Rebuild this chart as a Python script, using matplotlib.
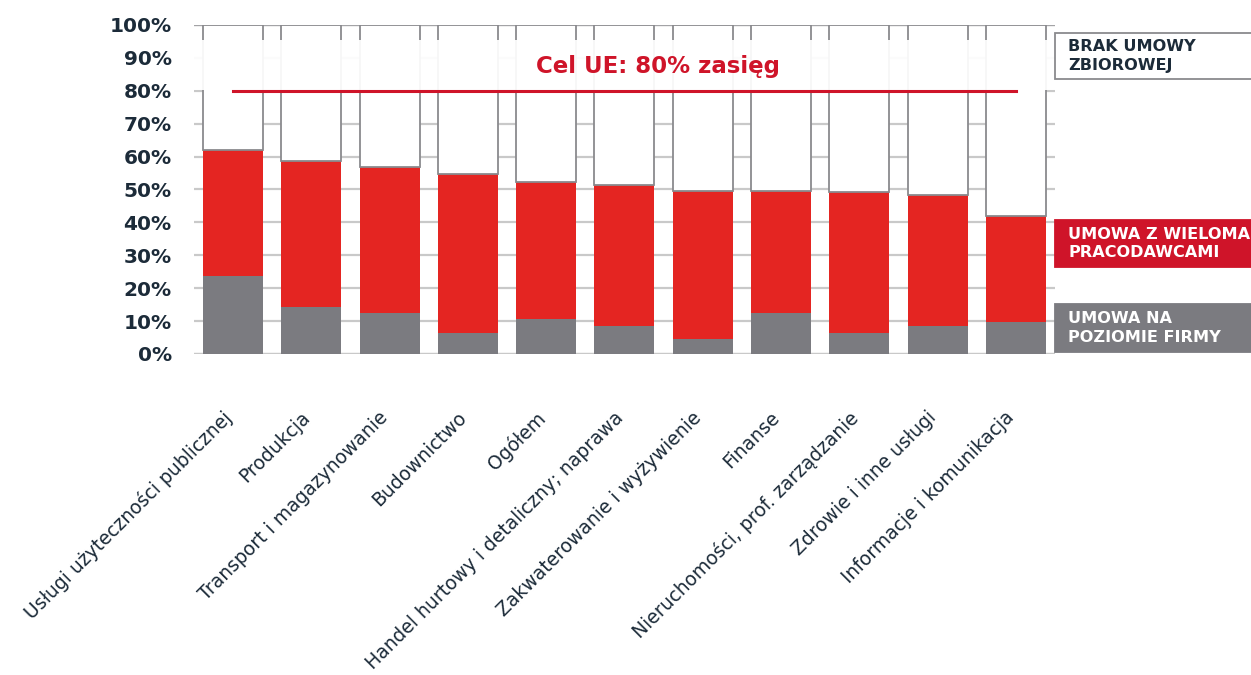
import matplotlib.pyplot as plt
from matplotlib.patches import Rectangle
import numpy as np

# sectors, left to right
categories = ['Usługi użyteczności publicznej', 'Produkcja', 'Transport i magazynowanie',
              'Budownictwo', 'Ogółem', 'Handel hurtowy i detaliczny; naprawa',
              'Zakwaterowanie i wyżywienie', 'Finanse', 'Nieruchomości, prof. zarządzanie',
              'Zdrowie i inne usługi', 'Informacje i komunikacja']

# shares in %
firm_level = [23.7, 14.3, 12.5, 6.4, 10.6, 8.5, 4.6, 12.4, 6.4, 8.5, 9.7]
multi_employer = [38.3, 44.4, 44.3, 48.3, 41.6, 42.9, 44.9, 37.1, 42.8, 39.8, 32.3]
target = 80

navy = '#1c2b39'
red = '#e42522'
red_dark = '#cf1429'
gray = '#7b7b80'

plt.rcParams['font.family'] = ['DejaVu Sans']

fig = plt.figure(figsize=(12.51, 6.75), dpi=100)
ax = fig.add_axes([0.155, 0.4756, 0.6883, 0.4874])

x = np.arange(len(categories))
firm = np.array(firm_level)
multi = np.array(multi_employer)
none = 100 - firm - multi
w = 0.766

ax.bar(x, firm, w, color=gray, zorder=2)
ax.bar(x, multi, w, bottom=firm, color=red, zorder=2)
ax.bar(x, none, w, bottom=firm + multi, color='white', edgecolor='#8a8a8e', linewidth=1.3, zorder=2)

# soft white band behind the target label
ax.axhspan(80.3, 95.5, color='white', alpha=0.93, zorder=3, lw=0)
ax.plot([x[0], x[-1]], [target, target], color=red_dark, lw=2.2, zorder=4)
ax.text(5.43, 87.3, 'Cel UE: 80% zasięg', color=red_dark, fontsize=16.5, fontweight='bold',
        ha='center', va='center', zorder=5)

ax.set_xlim(-0.5, 10.5)
ax.set_ylim(0, 100)
ax.set_yticks(range(0, 101, 10))
ax.set_yticklabels([f'{v}%' for v in range(0, 101, 10)], fontsize=14.5, fontweight='bold', color=navy)
ax.tick_params(axis='y', length=0, pad=16)
ax.yaxis.grid(True, color='#c9c9c9', lw=1.6, zorder=0)
ax.axhline(100, color='#a3a3a6', lw=1.6, zorder=1)
ax.axhline(0, color='#c9c9c9', lw=1.6, zorder=1)
ax.set_axisbelow(True)
for s in ax.spines.values():
    s.set_visible(False)
ax.set_xticks([])

# rotated sector labels ending under each bar
for i, name in enumerate(categories):
    ax.annotate(name, xy=(x[i], 0), xytext=(-11, -54), textcoords='offset pixels',
                rotation=45, rotation_mode='anchor', ha='right', va='top',
                fontsize=13.5, color=navy, annotation_clip=False)

# legend boxes on the right
W, H = 1251, 675
def legend_box(y_top, y_bot, face, edge, text, tcolor):
    fig.patches.append(Rectangle((1055 / W, 1 - y_bot / H), 200 / W, (y_bot - y_top) / H,
                                 transform=fig.transFigure, facecolor=face, edgecolor=edge,
                                 lw=1.3, zorder=1))
    fig.text(1068 / W, 1 - (y_top + y_bot) / 2 / H, text, color=tcolor, fontsize=11.6,
             fontweight='bold', ha='left', va='center', linespacing=1.3)

legend_box(33, 79, 'white', '#8a8a8e', 'BRAK UMOWY\nZBIOROWEJ', navy)
legend_box(220, 267, red_dark, red_dark, 'UMOWA Z WIELOMA\nPRACODAWCAMI', 'white')
legend_box(304, 352, gray, gray, 'UMOWA NA\nPOZIOMIE FIRMY', 'white')

plt.savefig('out.png', dpi=100)
